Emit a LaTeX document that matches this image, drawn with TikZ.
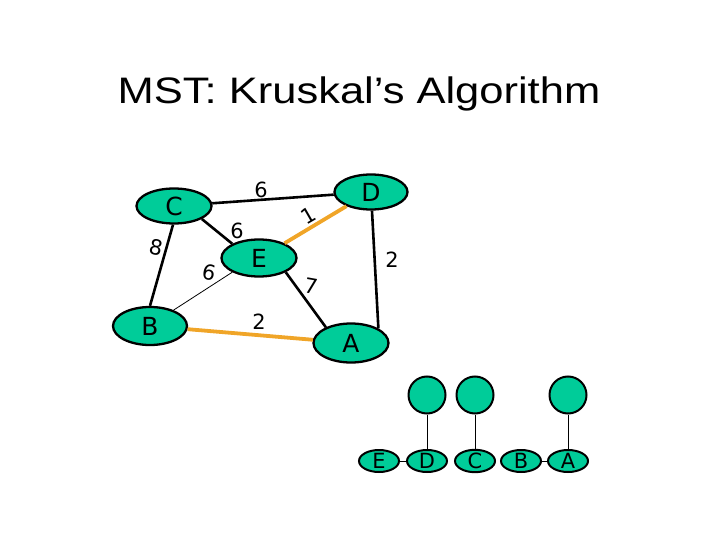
\documentclass[tikz,border=0pt]{standalone}
\usepackage{fontspec}
\setmainfont{DejaVu Sans}
\newfontfamily\titlefont{Liberation Sans}
\usetikzlibrary{shapes.geometric}
\definecolor{vert}{RGB}{0,204,153}
\definecolor{mst}{RGB}{240,165,40}
\tikzset{
  vtx/.style={ellipse,draw,line width=2.3bp,fill=vert,inner sep=0pt,font=\fontsize{25}{25}\selectfont},
  setvtx/.style={ellipse,draw,line width=2bp,fill=vert,inner sep=0pt,minimum width=40bp,minimum height=22bp,font=\fontsize{21}{21}\selectfont},
  rootvtx/.style={circle,draw,line width=2bp,fill=vert,inner sep=0pt,minimum size=37bp},
  edge/.style={line width=2.6bp},
  chosen/.style={line width=3.8bp,mst},
  wt/.style={inner sep=1pt,font=\fontsize{21}{21}\selectfont}
}
\begin{document}
\begin{tikzpicture}[x=1bp,y=-1bp]
\useasboundingbox (0,0) rectangle (720,540);
%title
\node[anchor=base](title) at (359,104){\titlefont\fontsize{37}{37}\selectfont\scalebox{1.18}[1]{MST: Kruskal’s Algorithm}};
%vertices
\node[vtx,minimum width=75bp,minimum height=35bp](C) at (174,206){C};
\node[vtx,minimum width=73bp,minimum height=35bp](D) at (371,192){D};
\node[vtx,minimum width=75bp,minimum height=37bp](E) at (259,258){E};
\node[vtx,minimum width=74bp,minimum height=38bp](B) at (150,326){B};
\node[vtx,minimum width=75bp,minimum height=39bp](A) at (351,343){A};
%edges
\draw[edge](C)--(D);
\draw[edge](C.-25)--(E.152);
\draw[edge](C.-93)--(B.90);
\draw[line width=0.8bp](B.34)--(E.208);
\draw[edge](E.-28)--(A.148);
\draw[edge](D.-87)--(A.28);
\draw[chosen](E.30)--(D.210);
\draw[chosen](B)--(A);
%weights
\foreach \n/\x/\y/\r/\t in {cd/261/190/0/6,ce/237/231/0/6,ed/308/216/30/1,cb/156/247/-12/8,be/209/272/-12/6,ea/311/286/-10/7,da/392/260/0/2,ba/259/322/0/2}
  {\node[wt,rotate=\r](w\n) at (\x,\y){\t};}
%union-find forest
\foreach \n/\x in {E/379,D/427,C/475,B/521,A/568}
  {\node[setvtx](s\n) at (\x,461){\n};}
\foreach \n/\x in {D/427,C/475,A/568}
  {\node[rootvtx](r\n) at (\x,395){};
   \draw[line width=1bp](r\n)--(s\n);}
\draw[line width=1bp](sE)--(sD);
\draw[line width=1bp](sB)--(sA);
\end{tikzpicture}
\end{document}
